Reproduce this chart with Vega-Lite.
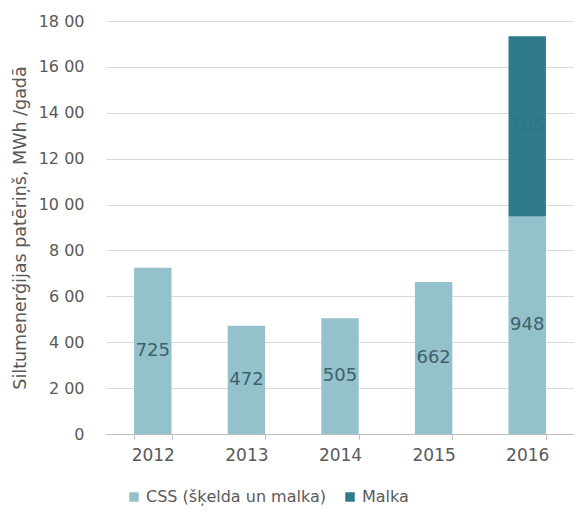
{
  "$schema": "https://vega.github.io/schema/vega-lite/v6.json",
  "width": 468,
  "height": 413,
  "autosize": "none",
  "padding": {"left": 106, "top": 21, "right": 0, "bottom": 81},
  "background": "white",
  "config": {
    "font": "DejaVu Sans",
    "view": {"stroke": null},
    "axis": {"labelColor": "#595959", "titleColor": "#595959", "labelFont": "DejaVu Sans", "titleFont": "DejaVu Sans", "titleFontWeight": "normal"},
    "legend": {"labelColor": "#595959", "labelFont": "DejaVu Sans"}
  },
  "data": {
    "values": [
      {"year": "2012", "type": "CSS (šķelda un malka)", "value": 725},
      {"year": "2013", "type": "CSS (šķelda un malka)", "value": 472},
      {"year": "2014", "type": "CSS (šķelda un malka)", "value": 505},
      {"year": "2015", "type": "CSS (šķelda un malka)", "value": 662},
      {"year": "2016", "type": "CSS (šķelda un malka)", "value": 948},
      {"year": "2016", "type": "Malka", "value": 785}
    ]
  },
  "transform": [
    {"stack": "value", "groupby": ["year"], "sort": [{"field": "type", "order": "ascending"}], "as": ["v0", "v1"]},
    {"calculate": "(datum.v0 + datum.v1) / 2", "as": "mid"}
  ],
  "encoding": {
    "x": {
      "field": "year", "type": "nominal",
      "scale": {"paddingInner": 0.6, "paddingOuter": 0.3},
      "axis": {"title": null, "labelAngle": 0, "labelFontSize": 17, "labelPadding": 8, "tickBand": "extent", "tickSize": 5, "tickColor": "#bfbfbf", "domainColor": "#bfbfbf", "grid": false}
    }
  },
  "layer": [
    {
      "mark": {"type": "bar"},
      "encoding": {
        "y": {
          "field": "v0", "type": "quantitative",
          "scale": {"domain": [0, 1800]},
          "axis": {
            "title": "Siltumenerģijas patēriņš, MWh /gadā",
            "titleFontSize": 17.5,
            "titlePadding": 9,
            "values": [0, 200, 400, 600, 800, 1000, 1200, 1400, 1600, 1800],
            "labelExpr": "datum.value == 0 ? '0' : slice(toString(datum.value), 0, -2) + ' ' + slice(toString(datum.value), -2)",
            "labelFontSize": 16,
            "labelPadding": 22,
            "domain": false,
            "ticks": false,
            "gridColor": "#d9d9d9"
          }
        },
        "y2": {"field": "v1"},
        "color": {
          "field": "type", "type": "nominal",
          "scale": {"domain": ["CSS (šķelda un malka)", "Malka"], "range": ["#93c2cd", "#2f7b8c"]},
          "legend": {"title": null, "orient": "none", "direction": "horizontal", "legendX": 20, "legendY": 468, "symbolType": "square", "symbolSize": 90, "labelFontSize": 16, "labelLimit": 400, "columnPadding": 16, "symbolStrokeWidth": 0}
        }
      }
    },
    {
      "mark": {"type": "text", "fontSize": 18, "baseline": "middle"},
      "encoding": {
        "y": {"field": "mid", "type": "quantitative"},
        "text": {"field": "value", "type": "quantitative"},
        "color": {
          "field": "type", "type": "nominal",
          "scale": {"domain": ["CSS (šķelda un malka)", "Malka"], "range": ["#40606a", "#2c7586"]},
          "legend": null
        }
      }
    }
  ],
  "resolve": {"scale": {"color": "independent"}}
}
